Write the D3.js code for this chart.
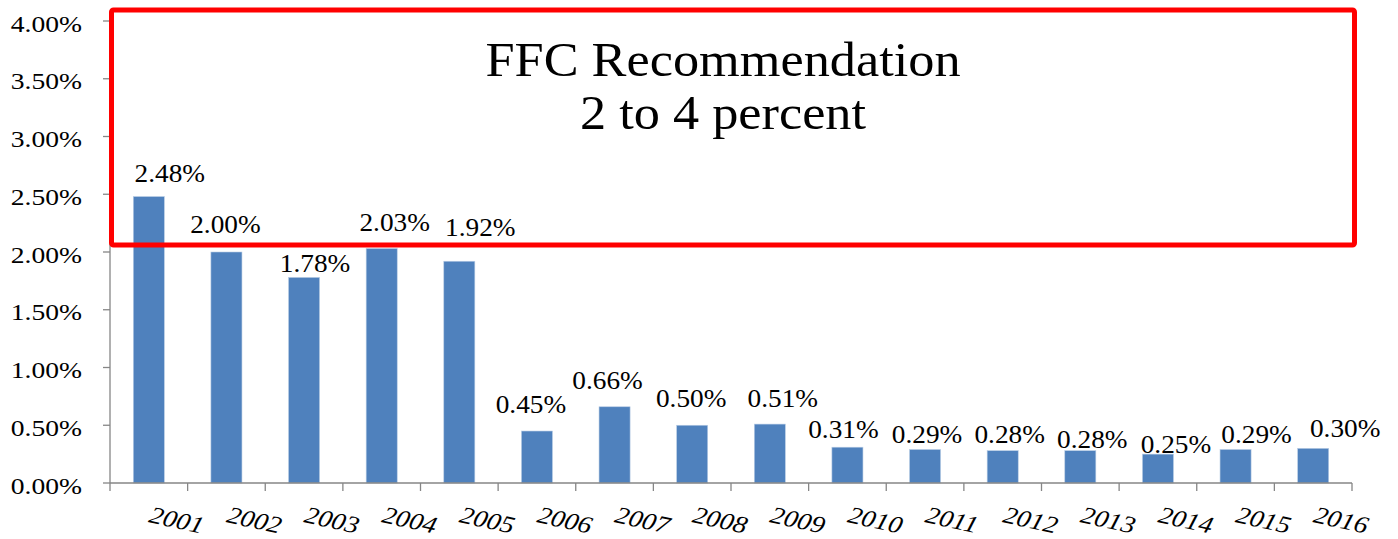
<!DOCTYPE html>
<html>
<head>
<meta charset="utf-8">
<script src="https://cdn.jsdelivr.net/npm/d3@7"></script>
<style>
  body { margin: 0; background: #fff; }
  text { font-family: "Liberation Serif", "Times New Roman", Times, serif; fill: #000; }
</style>
</head>
<body>
<div id="chart"></div>
<script>
// datos
const years = ["2001", "2002", "2003", "2004", "2005", "2006", "2007", "2008",
               "2009", "2010", "2011", "2012", "2013", "2014", "2015", "2016"];
const rates = [2.48, 2.00, 1.78, 2.03, 1.92, 0.45, 0.66, 0.50,
               0.51, 0.31, 0.29, 0.28, 0.28, 0.25, 0.29, 0.30];
const yTicks = [0, 0.5, 1, 1.5, 2, 2.5, 3, 3.5, 4];
const titleLines = ["FFC Recommendation", "2 to 4 percent"];
const recoRange = [2, 4];

// desplazamiento manual de las etiquetas (como en el original)
const labelDx = [21, -1, 11, 13, 21, -6, -7, -1, 13, -4, 2, 7, 12, 18, 21, 32];
const labelDy = [-15, -19, -5, -18, -25, -18, -18, -18, -17, -9, -7, -8, -3, -1, -7, -11];

const width = 1398;
const height = 539;
const margin = { top: 21, right: 46, bottom: 56, left: 110 };

const svg = d3.select("div#chart").append("svg").attr("width", width).attr("height", height);

const x = d3.scaleBand().domain(years)
    .range([margin.left, width - margin.right])
    .paddingInner(0.6).paddingOuter(0.3);
const y = d3.scaleLinear().domain([0, 4]).range([height - margin.bottom, margin.top]);

const axisColor = "#868686";
const fmt = v => v.toFixed(2) + "%";

// barras
svg.append("g").selectAll("rect")
    .data(rates)
    .enter().append("rect")
    .attr("x", (d, i) => x(years[i]))
    .attr("y", d => y(d))
    .attr("width", x.bandwidth())
    .attr("height", d => y(0) - y(d))
    .attr("fill", "#4f81bd")
    .attr("stroke", "#b9cde5")
    .attr("stroke-width", 0.6);

// eje y
const yAxis = svg.append("g");
yAxis.append("line")
    .attr("x1", margin.left).attr("x2", margin.left)
    .attr("y1", y(4)).attr("y2", y(0))
    .attr("stroke", axisColor).attr("stroke-width", 1.3);
yAxis.selectAll(".ytick").data(yTicks).enter().append("line")
    .attr("x1", margin.left - 7).attr("x2", margin.left)
    .attr("y1", d => y(d)).attr("y2", d => y(d))
    .attr("stroke", axisColor).attr("stroke-width", 1.3);
yAxis.selectAll(".ylab").data(yTicks).enter().append("text")
    .attr("transform", d => `translate(82, ${y(d) + 10.5}) scale(1.2, 1)`)
    .attr("text-anchor", "end")
    .style("font-size", "23px")
    .text(fmt);

// eje x
const step = x.step();
const bounds = years.map(d => x(d) - (step - x.bandwidth()) / 2);
bounds.push(bounds[bounds.length - 1] + step);
const xAxis = svg.append("g");
xAxis.append("line")
    .attr("x1", bounds[0]).attr("x2", bounds[bounds.length - 1])
    .attr("y1", y(0)).attr("y2", y(0))
    .attr("stroke", axisColor).attr("stroke-width", 1.3);
xAxis.selectAll(".xtick").data(bounds).enter().append("line")
    .attr("x1", d => d).attr("x2", d => d)
    .attr("y1", y(0)).attr("y2", y(0) + 8)
    .attr("stroke", axisColor).attr("stroke-width", 1.3);
xAxis.selectAll(".xlab").data(years).enter().append("text")
    .attr("transform", d => `translate(${x(d) + x.bandwidth() / 2 - 1}, ${y(0) + 39}) scale(1.15, 1) rotate(14)`)
    .attr("text-anchor", "start")
    .style("font-size", "24px")
    .style("font-style", "italic")
    .text(d => d);

// etiquetas de valores
svg.append("g").selectAll("text")
    .data(rates)
    .enter().append("text")
    .attr("transform", (d, i) => `translate(${x(years[i]) + x.bandwidth() / 2 + labelDx[i]}, ${y(d) + labelDy[i]}) scale(1.05, 1)`)
    .attr("text-anchor", "middle")
    .style("font-size", "26px")
    .text(fmt);

// recuadro de la recomendacion
svg.append("rect")
    .attr("x", margin.left + 1.5)
    .attr("y", y(recoRange[1]) - 11)
    .attr("width", 1354.5 - margin.left - 1.5)
    .attr("height", y(recoRange[0]) - 7 - (y(recoRange[1]) - 11))
    .attr("rx", 2)
    .attr("fill", "none")
    .attr("stroke", "#ff0000")
    .attr("stroke-width", 5);

svg.append("g").selectAll("text")
    .data(titleLines)
    .enter().append("text")
    .attr("transform", (d, i) => `translate(723, ${76 + i * 53}) scale(1.09, 1)`)
    .attr("text-anchor", "middle")
    .style("font-size", "48px")
    .text(d => d);
</script>
</body>
</html>
